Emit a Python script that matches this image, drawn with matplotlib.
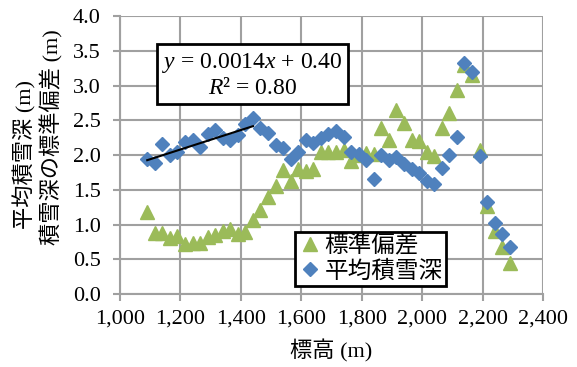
import numpy as np
import matplotlib
matplotlib.use("Agg")
import matplotlib.pyplot as plt
from matplotlib.ticker import FuncFormatter, MultipleLocator

plt.rcParams['font.family'] = ['Liberation Serif', 'Noto Sans CJK JP']
plt.rcParams['mathtext.fontset'] = 'custom'
plt.rcParams['mathtext.rm'] = 'Liberation Serif'
plt.rcParams['mathtext.it'] = 'Liberation Serif:italic'

# 標高帯ごとの値
elev = [1090, 1115, 1140, 1165, 1190, 1215, 1240, 1265, 1290, 1315,
        1340, 1365, 1390, 1415, 1440, 1465, 1490, 1515, 1540, 1565,
        1590, 1615, 1640, 1665, 1690, 1715, 1740, 1765, 1790, 1815,
        1840, 1865, 1890, 1915, 1940, 1965, 1990, 2015, 2040, 2065,
        2090, 2115, 2140, 2165, 2190, 2215, 2240, 2265, 2290]
mean_depth = [1.94, 1.88, 2.16, 2.00, 2.05, 2.19, 2.22, 2.12, 2.30, 2.36,
              2.25, 2.22, 2.29, 2.45, 2.54, 2.39, 2.32, 2.14, 2.10, 1.95,
              2.05, 2.22, 2.17, 2.24, 2.30, 2.34, 2.26, 2.05, 2.01, 1.93,
              1.66, 2.00, 1.93, 1.97, 1.87, 1.80, 1.74, 1.62, 1.58, 1.81,
              2.00, 2.26, 3.33, 3.19, 1.98, 1.33, 1.02, 0.86, 0.67]
std_depth = [1.18, 0.88, 0.88, 0.80, 0.83, 0.72, 0.73, 0.73, 0.82, 0.85,
             0.91, 0.93, 0.87, 0.89, 1.06, 1.21, 1.40, 1.55, 1.78, 1.63,
             1.80, 1.77, 1.80, 2.04, 2.04, 2.04, 2.07, 1.91, 2.00, 2.03,
             2.01, 2.39, 2.22, 2.65, 2.46, 2.22, 2.20, 2.04, 1.99, 2.39,
             2.60, 2.93, 3.30, 3.15, 2.07, 1.27, 0.90, 0.67, 0.44]

# 近似直線 (1,090～1,440 m の平均積雪深)
trend_range = [1090, 1440]
trend_slope = 0.0014
trend_icept = 0.40
trend_r2 = 0.80

fig = plt.figure(figsize=(5.77, 3.67), dpi=100)
ax = fig.add_axes([0.208, 0.199, 0.733, 0.757])

grid_c = '#a0a0a0'
ax.plot(elev, std_depth, linestyle='none', marker='^', ms=9.5,
        color='#9bbb59', label='標準偏差', zorder=3)
ax.plot(elev, mean_depth, linestyle='none', marker='D', ms=7,
        color='#4f81bd', label='平均積雪深', zorder=4)
xf = np.array(trend_range, dtype=float)
ax.plot(xf, trend_slope * xf + trend_icept, color='black', lw=1.5, zorder=5)

ax.set_xlim(1000, 2400)
ax.set_ylim(0, 4.0)
ax.xaxis.set_major_locator(MultipleLocator(200))
ax.yaxis.set_major_locator(MultipleLocator(0.5))
ax.xaxis.set_major_formatter(FuncFormatter(lambda v, p: f"{v:,.0f}"))
ax.yaxis.set_major_formatter(FuncFormatter(lambda v, p: f"{v:.1f}"))
ax.grid(True, color=grid_c, lw=1.5)
ax.set_axisbelow(True)
for s in ['top', 'right']:
    ax.spines[s].set_visible(False)
for s in ['left', 'bottom']:
    ax.spines[s].set_color(grid_c)
    ax.spines[s].set_linewidth(1.5)
ax.tick_params(axis='both', colors=grid_c, width=1.5, length=5,
               labelcolor='black', labelsize=16)
ax.tick_params(axis='y', pad=9)
ax.tick_params(axis='x', pad=6)

ax.set_xlabel('標高 (m)', fontsize=16, labelpad=8)
fig.text(0.043, 0.578, '平均積雪深 (m)', rotation=90, fontsize=16,
         ha='center', va='center')
fig.text(0.089, 0.627, '積雪深の標準偏差 (m)', rotation=90, fontsize=16,
         ha='center', va='center')

eq = f"$y$ = {trend_slope:.4f}$x$ + {trend_icept:.2f}\n$R$² = {trend_r2:.2f}"
ax.text(0.313, 0.788, eq, transform=ax.transAxes, ha='center', va='center',
        fontsize=17, linespacing=1.15, zorder=6,
        bbox=dict(boxstyle='square,pad=0.22', fc='white', ec='black', lw=2))

leg = ax.legend(loc='lower left', bbox_to_anchor=(0.414, 0.029),
                borderaxespad=0, fontsize=17, fancybox=False,
                edgecolor='black', framealpha=1, handletextpad=0.1,
                borderpad=0.15, labelspacing=0.1, handlelength=1.0)
leg.get_frame().set_linewidth(2)
leg.set_zorder(7)

fig.savefig('out.png', dpi=100)
